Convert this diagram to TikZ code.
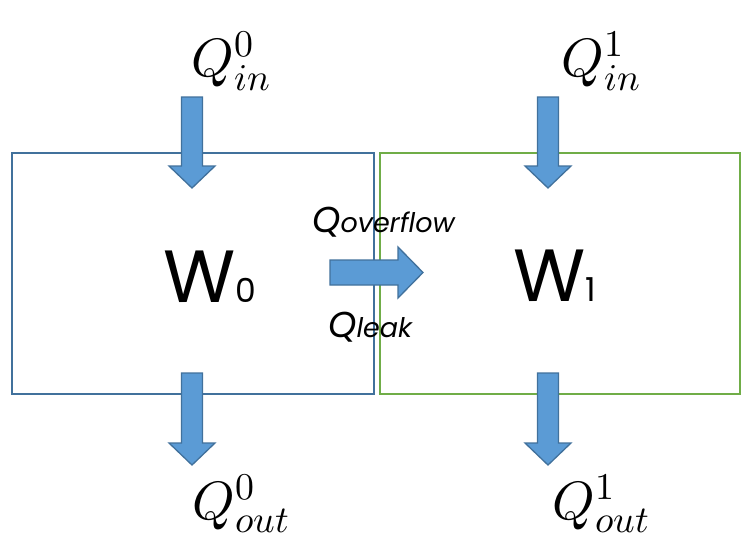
\documentclass[tikz,border=0pt]{standalone}
\usepackage{fontspec}
\usepackage{unicode-math}
\setmathfont{Latin Modern Math}
\newfontfamily\wfont{Poppins}
\definecolor{arrfill}{HTML}{5B9BD5}
\definecolor{arrline}{HTML}{41719C}
\definecolor{boxblue}{HTML}{41719C}
\definecolor{boxgreen}{HTML}{70AD47}
\newcommand\vdarrow[3]{%
  \filldraw[flowarrow] (#1-10.5,#2) -- (#1+10.5,#2) -- (#1+10.5,#3-22) -- (#1+23,#3-22)
    -- (#1,#3) -- (#1-23,#3-22) -- (#1-10.5,#3-22) -- cycle;}
\begin{document}
\begin{tikzpicture}[x=1pt,y=-1pt,
  flowarrow/.style={fill=arrfill,draw=arrline,line width=1.3pt,line join=miter},
  wbox/.style={draw=#1,line width=2pt,minimum height=241pt,inner sep=0pt,anchor=north west},
  mathlbl/.style={anchor=base,inner sep=0pt,font=\fontsize{54}{60}\selectfont},
  flowlbl/.style={anchor=base west,inner sep=0pt}]
\useasboundingbox (0,0) rectangle (741,539);
\fill[white] (0,0) rectangle (741,539);
\node[wbox=boxblue,minimum width=362pt] (w0) at (11,152) {};
\node[wbox=boxgreen,minimum width=360pt] (w1) at (379,152) {};
\node[flowlbl] (w0lbl) at (163,302) {\wfont\fontsize{74}{74}\selectfont W\fontsize{33}{33}\selectfont 0};
\node[flowlbl] (w1lbl) at (513,301) {\wfont\fontsize{74}{74}\selectfont W\fontsize{33}{33}\selectfont 1};
\vdarrow{192}{97}{188}
\vdarrow{192}{373}{465}
\vdarrow{548}{97}{188}
\vdarrow{548}{373}{465}
\filldraw[flowarrow] (330,260) -- (398,260) -- (398,247) -- (423,272.5) -- (398,298) -- (398,285) -- (330,285) -- cycle;
\node[flowlbl] (qover) at (312,232) {\wfont\itshape\fontsize{36}{36}\selectfont Q\fontsize{27}{27}\selectfont overflow};
\node[flowlbl] (qleak) at (328,337) {\wfont\itshape\fontsize{36}{36}\selectfont Q\fontsize{27}{27}\selectfont leak};
\node[mathlbl] (qin0) at (231,76) {$Q^0_{in}$};
\node[mathlbl] (qin1) at (601,76) {$Q^1_{in}$};
\node[mathlbl] (qout0) at (241,519) {$Q^0_{out}$};
\node[mathlbl] (qout1) at (601,519) {$Q^1_{out}$};
\end{tikzpicture}
\end{document}
